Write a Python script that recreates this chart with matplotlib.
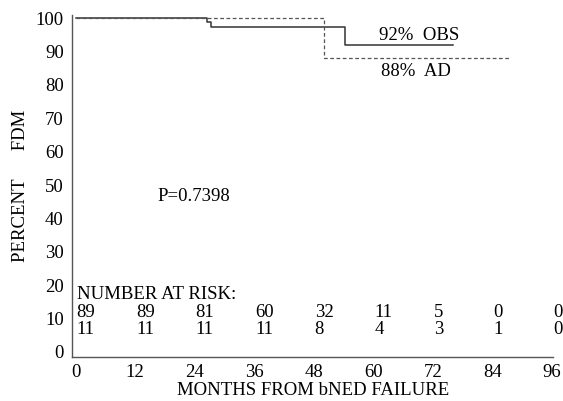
import matplotlib.pyplot as plt

plt.rcParams['font.family'] = ['Liberation Serif', 'DejaVu Serif']

# Kaplan-Meier step data (months, percent FDM)
obs_t = [0, 26.5, 27.3, 54.4, 76]
obs_s = [100, 99, 97.4, 92, 92]
ad_t = [0, 50, 87.6]
ad_s = [100, 88, 88]

risk_months = [0, 12, 24, 36, 48, 60, 72, 84, 96]
risk_obs = [89, 89, 81, 60, 32, 11, 5, 0, 0]
risk_ad = [11, 11, 11, 11, 8, 4, 3, 1, 0]

x_ticks = [0, 12, 24, 36, 48, 60, 72, 84, 96]
y_ticks = [0, 10, 20, 30, 40, 50, 60, 70, 80, 90, 100]

FS = 13.5

fig = plt.figure(figsize=(5.63, 4.01), dpi=100)
ax = fig.add_axes([0.128, 0.110, 0.855, 0.853])

ax.step(obs_t, obs_s, where='post', color='#333333', lw=1.1)
ax.step(ad_t, ad_s, where='post', color='#555555', lw=0.9, ls=(0, (3, 2)))

ax.set_xlim(-0.7, 96.3)
ax.set_ylim(-1.5, 101)
ax.set_xticks(x_ticks)
ax.set_yticks(y_ticks)
ax.tick_params(axis='x', length=0, labelsize=FS, pad=5)
ax.tick_params(axis='y', length=0, labelsize=FS, pad=6)
for s in ['top', 'right']:
    ax.spines[s].set_visible(False)
for s in ['left', 'bottom']:
    ax.spines[s].set_color('#555555')
    ax.spines[s].set_linewidth(1.0)

ax.set_xlabel('MONTHS FROM bNED FAILURE', fontsize=FS, labelpad=1)
ax.set_ylabel('PERCENT      FDM', fontsize=FS, labelpad=5)

ax.text(69.3, 94.9, '92%  OBS', fontsize=FS, ha='center', va='center')
ax.text(68.5, 83.9, '88%  AD', fontsize=FS, ha='center', va='center')
ax.text(23.9, 46.6, 'P=0.7398', fontsize=FS, ha='center', va='center')

ax.text(0.3, 17.3, 'NUMBER AT RISK:', fontsize=FS, ha='left', va='center')
for m, a, b in zip(risk_months, risk_obs, risk_ad):
    ax.text(m + 0.2, 11.9, str(a), fontsize=FS, ha='left', va='center')
    ax.text(m + 0.2, 6.6, str(b), fontsize=FS, ha='left', va='center')

fig.savefig('out.png', dpi=100)
